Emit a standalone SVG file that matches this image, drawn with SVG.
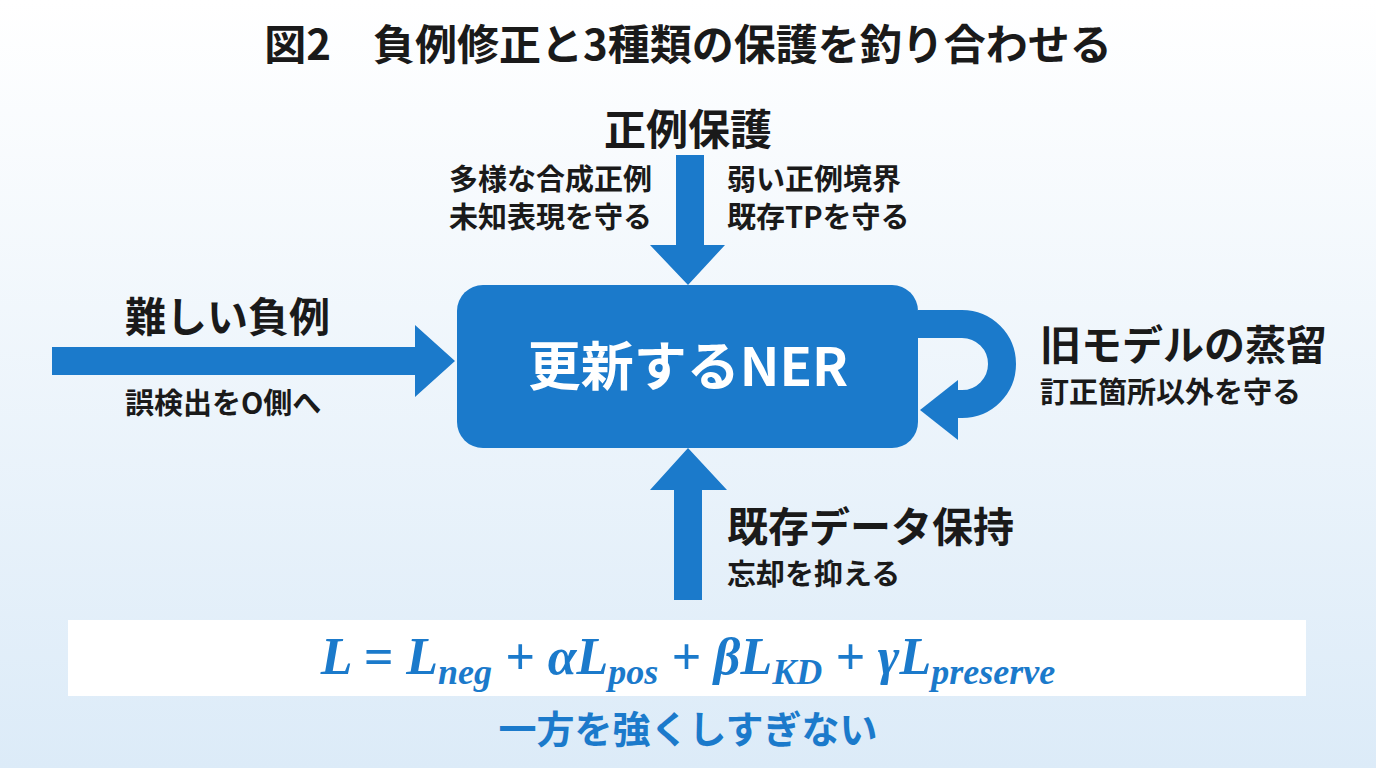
<svg xmlns="http://www.w3.org/2000/svg" width="1376" height="768" viewBox="0 0 1376 768">
<defs>
<linearGradient id="bg" x1="0" y1="0" x2="0" y2="1"><stop offset="0" stop-color="#ffffff"/><stop offset="1" stop-color="#dcebf8"/></linearGradient>
<style>
.t{font-family:"Noto Sans CJK JP","Noto Sans",sans-serif;font-weight:bold;fill:#1a1a1a}
.a{fill:#1b7acb}
.f{font-family:"Liberation Serif",serif;font-weight:bold;font-style:italic;fill:#1b7acb;font-size:52px}
</style>
</defs>
<rect width="1376" height="768" fill="url(#bg)"/>
<text class="t" x="688" y="60" font-size="42" text-anchor="middle">図2　負例修正と3種類の保護を釣り合わせる</text>
<g id="connectors">
<polygon class="a" points="676,155 704,155 704,245 725,245 688,285 650,245 676,245"/>
<polygon class="a" points="52,347 415,347 415,325 455,361 415,397 415,375 52,375"/>
<path d="M918 324 H962 A40 40 0 0 1 962 404 H955" fill="none" stroke="#1b7acb" stroke-width="28"/>
<polygon class="a" points="958,380 958,440 920,410"/>
<polygon class="a" points="674,600 702,600 702,490 727,490 688,448 650,490 674,490"/>
</g>
<g id="ner">
<rect x="457" y="285" width="461" height="163" rx="26" class="a"/>
<text class="t" x="688" y="386" font-size="53" text-anchor="middle" style="fill:#fff">更新するNER</text>
</g>
<g id="pos">
<text class="t" x="688" y="145" font-size="42" text-anchor="middle">正例保護</text>
<text class="t" x="652" y="190" font-size="29" text-anchor="end">多様な合成正例</text>
<text class="t" x="652" y="228" font-size="29" text-anchor="end">未知表現を守る</text>
<text class="t" x="727" y="190" font-size="29">弱い正例境界</text>
<text class="t" x="727" y="228" font-size="29">既存TPを守る</text>
</g>
<g id="neg">
<text class="t" x="125" y="332" font-size="41">難しい負例</text>
<text class="t" x="125" y="414" font-size="29">誤検出をO側へ</text>
</g>
<g id="kd">
<text class="t" x="1040" y="360" font-size="41">旧モデルの蒸留</text>
<text class="t" x="1040" y="403" font-size="29">訂正箇所以外を守る</text>
</g>
<g id="keep">
<text class="t" x="727" y="542" font-size="41">既存データ保持</text>
<text class="t" x="727" y="585" font-size="29">忘却を抑える</text>
</g>
<g id="formula">
<rect x="68" y="620" width="1238" height="76" fill="#fff"/>
<text class="f" x="688" y="674" text-anchor="middle">L = L<tspan font-size="36" dy="10">neg</tspan><tspan dy="-10"> + αL</tspan><tspan font-size="36" dy="10">pos</tspan><tspan dy="-10"> + βL</tspan><tspan font-size="36" dy="10">KD</tspan><tspan dy="-10"> + γL</tspan><tspan font-size="36" dy="10">preserve</tspan></text>
<text class="t" x="688" y="743" font-size="38" text-anchor="middle" style="fill:#1b7acb">一方を強くしすぎない</text>
</g>
</svg>
